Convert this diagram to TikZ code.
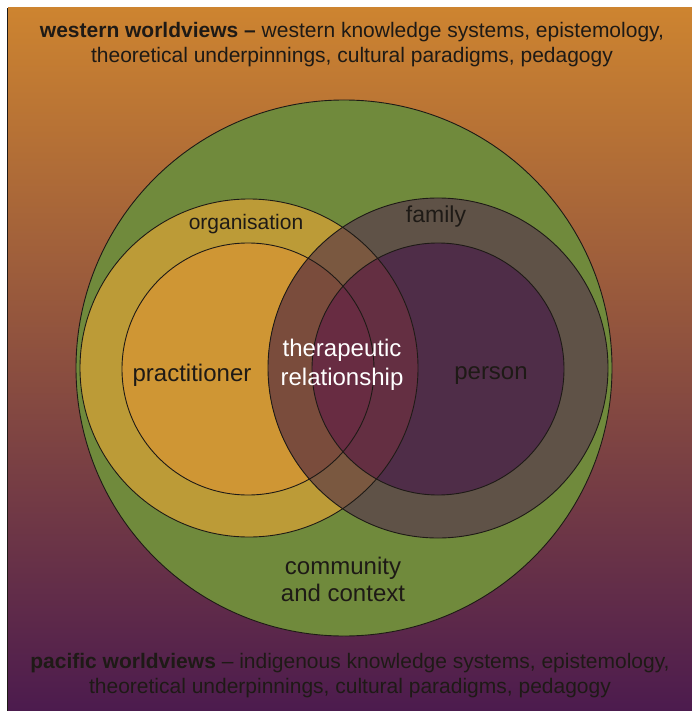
\documentclass[tikz,border=0pt]{standalone}
\usepackage{fontspec}
\setmainfont{Liberation Sans}
\usepackage{xcolor}
\usepackage{tikz}
\usetikzlibrary{positioning}
\definecolor{bgtop}{RGB}{205,132,48}
\definecolor{bgmid}{RGB}{180,100,52}
\definecolor{bgbot}{RGB}{76,27,78}
\definecolor{commgreen}{RGB}{112,138,60}
\definecolor{orgring}{RGB}{188,155,55}
\definecolor{practfill}{RGB}{207,150,52}
\definecolor{famring}{RGB}{95,82,71}
\definecolor{famorg}{RGB}{122,88,64}
\definecolor{fampract}{RGB}{122,76,60}
\definecolor{personfill}{RGB}{79,45,72}
\definecolor{personorg}{RGB}{100,47,66}
\definecolor{personpract}{RGB}{104,44,66}
\definecolor{inkdark}{RGB}{30,26,22}
\tikzset{ring/.style={draw=inkdark,line width=0.9pt},
         label/.style={text=inkdark,align=center,inner sep=0pt,font=\fontsize{24}{29}\selectfont},
         whitelabel/.style={label,text=white},
         worldview/.style={text=inkdark,align=center,inner sep=0pt,font=\fontsize{21}{25}\selectfont},
         backdrop/.style={top color=bgtop,middle color=bgmid,bottom color=bgbot}}

\begin{document}
\begin{tikzpicture}[x=1pt,y=-1pt]
    \useasboundingbox (0,0) rectangle (692,711);
    % Background
    \fill[white] (0,0) rectangle (692,711);
    \fill[backdrop] (8,8) rectangle (692,711);
    \draw[inkdark,line width=1.2pt] (7.5,8) -- (7.5,711);
    % Circles
    \fill[commgreen] (344,368) circle[radius=268pt];
    \fill[orgring] (249,368) circle[radius=169pt];
    \fill[practfill] (248,369) circle[radius=126pt];
    \fill[famring] (438,368) circle[radius=170pt];
    \fill[personfill] (438,369) circle[radius=126pt];
    % Overlaps
    \begin{scope}
      \clip (249,368) circle[radius=169pt];
      \fill[famorg] (438,368) circle[radius=170pt];
      \fill[personorg] (438,369) circle[radius=126pt];
    \end{scope}
    \begin{scope}
      \clip (248,369) circle[radius=126pt];
      \fill[fampract] (438,368) circle[radius=170pt];
      \fill[personpract] (438,369) circle[radius=126pt];
    \end{scope}
    % Outlines
    \draw[ring] (344,368) circle[radius=268pt];
    \draw[ring] (249,368) circle[radius=169pt];
    \draw[ring] (248,369) circle[radius=126pt];
    \draw[ring] (438,368) circle[radius=170pt];
    \draw[ring] (438,369) circle[radius=126pt];
    % Labels
    \node (western) at (352,45) [worldview]{\textbf{western worldviews –} western knowledge systems, epistemology,\\theoretical underpinnings, cultural paradigms, pedagogy};
    \node (pacific) at (350,676) [worldview]{\textbf{pacific worldviews} – indigenous knowledge systems, epistemology,\\theoretical underpinnings, cultural paradigms, pedagogy};
    \node (organisation) at (246,224) [label,font=\fontsize{21}{25}\selectfont]{organisation};
    \node (family) at (436,217) [label,font=\fontsize{23}{27}\selectfont]{family};
    \node (practitioner) at (192,375) [label]{practitioner};
    \node (therapeutic) at (342,365) [whitelabel]{therapeutic\\relationship};
    \node (person) at (491,376) [label]{person};
    \node (community) at (343,579) [label,font=\fontsize{24}{27}\selectfont]{community\\and context};
\end{tikzpicture}
\end{document}
